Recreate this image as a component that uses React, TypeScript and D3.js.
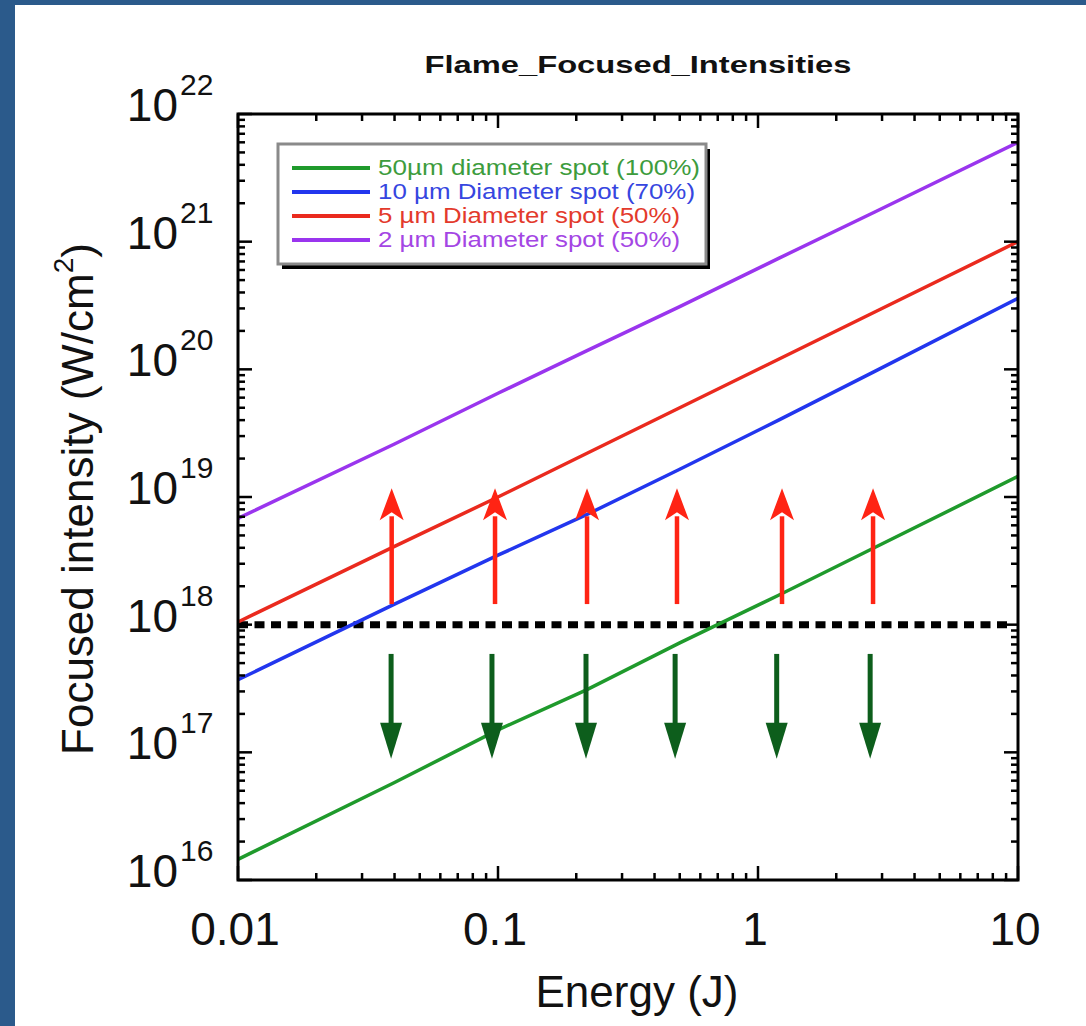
import React from "react";
import * as d3 from "d3";

// ---- data ----
const energies = [0.01, 0.04, 0.1, 0.22, 0.5, 1.2, 2.8, 10];
const green50 = [1.45e16, 5.8e16, 1.5e17, 3.1e17, 7.2e17, 1.7e18, 4.0e18, 1.45e19];
const blue10 = [3.7e17, 1.45e18, 3.5e18, 7.3e18, 1.65e19, 4.0e19, 9.6e19, 3.6e20];
const red5 = [1.05e18, 4.1e18, 1.0e19, 2.2e19, 5.0e19, 1.2e20, 2.8e20, 1.0e21];
const purple2 = [6.8e18, 2.6e19, 6.5e19, 1.4e20, 3.1e20, 7.4e20, 1.7e21, 6.0e21];

const seriesNames = [
  "50\u00b5m diameter spot (100%)",
  "10 \u00b5m Diameter spot (70%)",
  "5 \u00b5m Diameter spot (50%)",
  "2 \u00b5m Diameter spot (50%)",
];
const seriesValues = [green50, blue10, red5, purple2];
const seriesColors = ["#1f9a2c", "#2236ee", "#ea2a1e", "#9a35ee"];
const legendTextColors = ["#3d9c3d", "#3646e0", "#e33a2c", "#a446e4"];
const legendTextLengths = [322, 317, 302, 302];

const thresholdValue = 1e18;
const upArrowEnergies = [0.039, 0.0974, 0.22, 0.488, 1.237, 2.77];
const downArrowEnergies = [0.0388, 0.0948, 0.218, 0.48, 1.18, 2.7];
const upArrowRange = [1.45e18, 1.17e19];
const downArrowRange = [5.9e17, 8.9e16];

const xTickValues = [0.01, 0.1, 1, 10];
const xTickLabels = ["0.01", "0.1", "1", "10"];
const yExponents = [16, 17, 18, 19, 20, 21, 22];

const FONT = "'Liberation Sans', Arial, Helvetica, sans-serif";

export default function App() {
  const W = 1086;
  const H = 1026;
  const L = 238, R = 1018, T = 114, B = 880;

  const x = d3.scaleLog().domain([0.01, 10]).range([L, R]);
  const y = d3.scaleLog().domain([1e16, 1e22]).range([B, T]);

  const line = d3
    .line<[number, number]>()
    .x((d) => x(d[0]))
    .y((d) => y(d[1]));

  // minor ticks
  const xMinor: number[] = [];
  for (let p = -2; p < 1; p++) for (let m = 2; m <= 9; m++) xMinor.push(m * Math.pow(10, p));
  const yMinor: number[] = [];
  for (let p = 16; p < 22; p++) for (let m = 2; m <= 9; m++) yMinor.push(m * Math.pow(10, p));

  const majorLen = 14;
  const minorLen = 7;

  const upArrow = (e: number, i: number) => {
    const cx = x(e);
    const y0 = y(upArrowRange[0]);
    const y1 = y(upArrowRange[1]);
    const headLen = 32;
    const headW = 12;
    return (
      <g key={"u" + i}>
        <line x1={cx} x2={cx} y1={y0} y2={y1 + headLen - 4} stroke="#ff2414" strokeWidth={4.5} />
        <path
          d={`M${cx},${y1} L${cx - headW},${y1 + headLen} L${cx},${y1 + headLen - 8} L${cx + headW},${y1 + headLen} Z`}
          fill="#ff2414"
        />
      </g>
    );
  };

  const downArrow = (e: number, i: number) => {
    const cx = x(e);
    const y0 = y(downArrowRange[0]);
    const y1 = y(downArrowRange[1]);
    const headLen = 36;
    const headW = 11;
    return (
      <g key={"d" + i}>
        <line x1={cx} x2={cx} y1={y0} y2={y1 - headLen + 4} stroke="#0d5e1c" strokeWidth={5} />
        <path
          d={`M${cx},${y1} L${cx - headW},${y1 - headLen} L${cx + headW},${y1 - headLen} Z`}
          fill="#0d5e1c"
        />
      </g>
    );
  };

  const legX = 278, legY = 144, legW = 428, legH = 120;
  const legRows = [168, 192, 216, 240];

  return (
    <svg
      width={W}
      height={H}
      style={{ position: "absolute", left: 0, top: 0, display: "block" }}
      fontFamily={FONT}
    >
      <rect x={0} y={0} width={W} height={H} fill="#2b5a8b" />
      <rect x={15} y={5} width={W - 15} height={H - 5} fill="#ffffff" />

      {/* title */}
      <text
        x={638}
        y={73}
        textAnchor="middle"
        fontSize={24}
        fontWeight="bold"
        fill="#111"
        textLength={427}
        lengthAdjust="spacingAndGlyphs"
      >
        Flame_Focused_Intensities
      </text>

      {/* threshold dotted line */}
      <line
        x1={L}
        x2={R - 8}
        y1={y(thresholdValue)}
        y2={y(thresholdValue)}
        stroke="#000"
        strokeWidth={7}
        strokeDasharray="10 6.5"
      />

      {/* series */}
      {seriesValues.map((vals, i) => (
        <path
          key={i}
          d={line(energies.map((e, j) => [e, vals[j]] as [number, number])) || ""}
          fill="none"
          stroke={seriesColors[i]}
          strokeWidth={3.5}
        />
      ))}

      {/* arrows */}
      {upArrowEnergies.map(upArrow)}
      {downArrowEnergies.map(downArrow)}

      {/* frame ticks */}
      {xTickValues.map((v, i) => (
        <g key={"xt" + i}>
          <line x1={x(v)} x2={x(v)} y1={B} y2={B - majorLen} stroke="#000" strokeWidth={2.5} />
          <line x1={x(v)} x2={x(v)} y1={T} y2={T + majorLen} stroke="#000" strokeWidth={2.5} />
        </g>
      ))}
      {xMinor.map((v, i) => (
        <g key={"xm" + i}>
          <line x1={x(v)} x2={x(v)} y1={B} y2={B - minorLen} stroke="#000" strokeWidth={2.5} />
          <line x1={x(v)} x2={x(v)} y1={T} y2={T + minorLen} stroke="#000" strokeWidth={2.5} />
        </g>
      ))}
      {yExponents.map((p, i) => (
        <g key={"yt" + i}>
          <line x1={L} x2={L + majorLen} y1={y(Math.pow(10, p))} y2={y(Math.pow(10, p))} stroke="#000" strokeWidth={2.5} />
          <line x1={R} x2={R - majorLen} y1={y(Math.pow(10, p))} y2={y(Math.pow(10, p))} stroke="#000" strokeWidth={2.5} />
        </g>
      ))}
      {yMinor.map((v, i) => (
        <g key={"ym" + i}>
          <line x1={L} x2={L + minorLen} y1={y(v)} y2={y(v)} stroke="#000" strokeWidth={2.5} />
          <line x1={R} x2={R - minorLen} y1={y(v)} y2={y(v)} stroke="#000" strokeWidth={2.5} />
        </g>
      ))}
      <rect x={L} y={T} width={R - L} height={B - T} fill="none" stroke="#000" strokeWidth={3} />

      {/* legend */}
      <rect x={legX + 4} y={legY + 5} width={legW} height={legH} fill="#000" />
      <rect x={legX} y={legY} width={legW} height={legH} fill="#fff" stroke="#8a8a8a" strokeWidth={3} />
      {seriesNames.map((name, i) => (
        <g key={"lg" + i}>
          <line x1={292} x2={370} y1={legRows[i]} y2={legRows[i]} stroke={seriesColors[i]} strokeWidth={4} />
          <text
            x={378}
            y={legRows[i] + 7}
            fontSize={22}
            fill={legendTextColors[i]}
            textLength={legendTextLengths[i]}
            lengthAdjust="spacingAndGlyphs"
          >
            {name}
          </text>
        </g>
      ))}

      {/* x tick labels */}
      {xTickValues.map((v, i) => (
        <text key={"xl" + i} x={x(v) - 3} y={945} textAnchor="middle" fontSize={46} fill="#111">
          {xTickLabels[i]}
        </text>
      ))}

      {/* y tick labels */}
      {yExponents.map((p, i) => {
        const ty = y(Math.pow(10, p));
        return (
          <g key={"yl" + i}>
            <text x={178} y={ty + 7} textAnchor="end" fontSize={46} fill="#111">
              10
            </text>
            <text x={180} y={ty - 19} textAnchor="start" fontSize={30} fill="#111">
              {String(p)}
            </text>
          </g>
        );
      })}

      {/* axis titles */}
      <text x={637} y={1007} textAnchor="middle" fontSize={44} fill="#111">
        Energy (J)
      </text>
      <text
        transform={`translate(93, ${(T + B) / 2 + 2}) rotate(-90)`}
        textAnchor="middle"
        fontSize={44}
        fill="#111"
      >
        Focused intensity (W/cm
        <tspan fontSize={28} dy={-20}>2</tspan>
        <tspan dy={20}>)</tspan>
      </text>
    </svg>
  );
}
